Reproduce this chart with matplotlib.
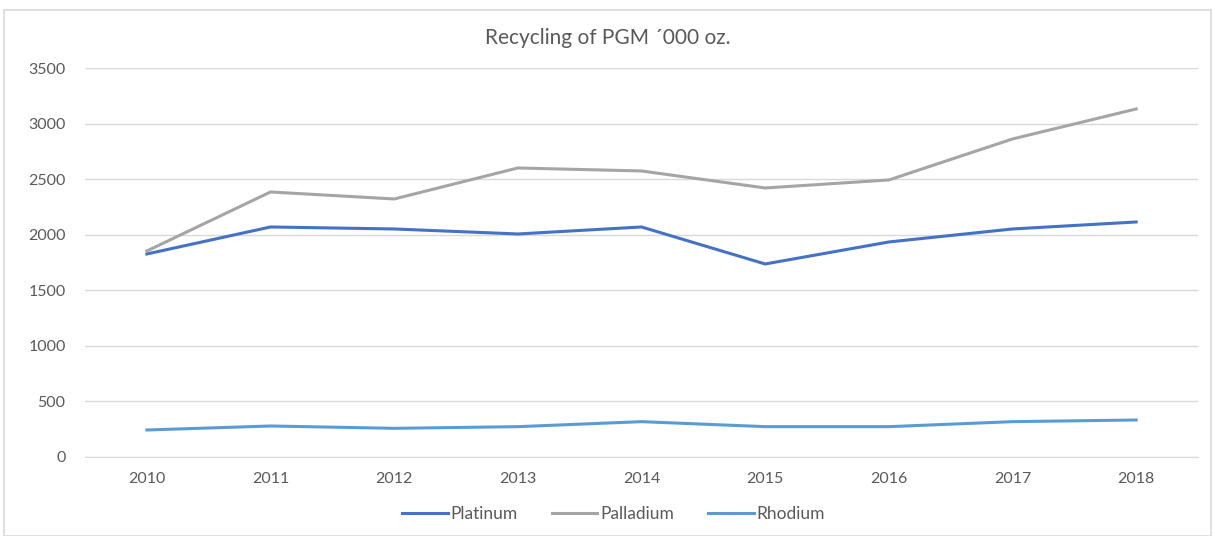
import numpy as np
import matplotlib
matplotlib.use('Agg')
import matplotlib.pyplot as plt
from matplotlib.patches import Rectangle

# data (thousand oz)
years = ['2010', '2011', '2012', '2013', '2014', '2015', '2016', '2017', '2018']
platinum = [1827, 2070, 2052, 2007, 2070, 1737, 1935, 2052, 2115]
palladium = [1854, 2385, 2322, 2601, 2574, 2421, 2493, 2862, 3132]
rhodium = [243, 279, 258, 273, 318, 273, 273, 318, 333]

text_color = '#595959'
plt.rcParams['font.family'] = ['Lato', 'DejaVu Sans']

fig = plt.figure(figsize=(12.15, 5.36), dpi=100)
ax = fig.add_axes([0.07, 0.1474, 0.916, 0.7256])

# outer chart border
fig.patches.append(Rectangle((0.003, 0.0), 0.994, 0.982, transform=fig.transFigure,
                             fill=False, edgecolor='#D9D9D9', linewidth=1.2))

x = np.arange(len(years))
ax.plot(x, platinum, color='#4472C4', linewidth=2.2, label='Platinum')
ax.plot(x, palladium, color='#A5A5A5', linewidth=2.2, label='Palladium')
ax.plot(x, rhodium, color='#5B9BD5', linewidth=2.2, label='Rhodium')

ax.set_xlim(-0.5, len(years) - 0.5)
ax.set_ylim(0, 3500)
ax.set_yticks(np.arange(0, 3501, 500))
ax.set_xticks(x)
ax.set_xticklabels(years)
ax.grid(axis='y', color='#D9D9D9', linewidth=1)
ax.set_axisbelow(True)
for s in ['top', 'right', 'left']:
    ax.spines[s].set_visible(False)
ax.spines['bottom'].set_color('#D9D9D9')
ax.tick_params(length=0, colors=text_color, labelsize=11.5)
ax.tick_params(axis='y', pad=14)
ax.tick_params(axis='x', pad=11)

fig.text(0.5, 0.929, 'Recycling of PGM \u00b4000 oz.', ha='center', va='center',
         fontsize=15, color=text_color)

leg = ax.legend(loc='center', bbox_to_anchor=(0.505, 0.041), bbox_transform=fig.transFigure,
                ncol=3, frameon=False, fontsize=12.5, handlelength=2.6, handletextpad=0.15,
                columnspacing=2.0)
for t in leg.get_texts():
    t.set_color(text_color)

plt.savefig('out.png', dpi=100)
